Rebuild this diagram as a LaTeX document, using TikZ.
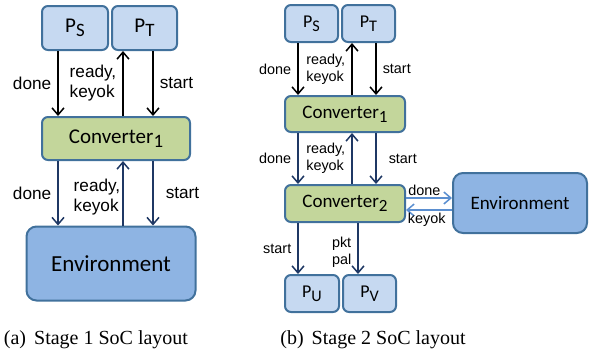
\documentclass[tikz,border=0pt]{standalone}
\usepackage{fontspec}
\setmainfont{Liberation Serif}
\setsansfont{Liberation Sans}
\newfontfamily\calibri{Carlito}
\usepackage{graphicx}
\usetikzlibrary{arrows.meta,positioning}
\definecolor{boxblue}{HTML}{C6D9F1}
\definecolor{edgeblue}{HTML}{41719C}
\definecolor{convgreen}{HTML}{C3D69B}
\definecolor{envblue}{HTML}{8EB4E3}
\definecolor{navy}{HTML}{1F3864}
\definecolor{linkblue}{HTML}{5B8FD0}
\newcommand{\lowsub}[1]{\raisebox{-0.45ex}{\scalebox{0.9}{#1}}}

\begin{document}
\begin{tikzpicture}[x=0.5pt, y=-0.5pt,
  proc/.style={draw=edgeblue, fill=boxblue, line width=1pt, rounded corners=3pt, inner sep=0pt},
  conv/.style={proc, fill=convgreen},
  envbox/.style={proc, fill=envblue, rounded corners=5pt},
  sig/.style={-{Straight Barb[length=3.5pt,width=6pt]}, line width=0.75pt},
  lab/.style={font=\sffamily\fontsize{8.6}{10}\selectfont, align=left, inner sep=3pt},
  labs/.style={font=\sffamily\fontsize{7.2}{8.4}\selectfont, align=left, inner sep=3pt}]
\useasboundingbox (0,0) rectangle (589,354);
% stage 1
\node[proc, minimum width=33pt, minimum height=22pt, font=\calibri\fontsize{10.5}{12}\selectfont] (ps) at (75,28) {P\lowsub{S}};
\node[proc, minimum width=32.5pt, minimum height=22pt, font=\calibri\fontsize{10.5}{12}\selectfont, right=1pt of ps] (pt) {P\lowsub{T}};
\node[conv, minimum width=74pt, minimum height=21.5pt, font=\calibri\fontsize{10.5}{12}\selectfont] (conv) at (116,138.5) {Converter\lowsub{1}};
\node[envbox, minimum width=84.5pt, minimum height=37pt, font=\calibri\fontsize{11.5}{13}\selectfont] (env) at (111,263.5) {Environment};
\coordinate (ca) at (58,0);
\coordinate (cb) at (123,0);
\coordinate (cc) at (153,0);
\draw[sig] (ps.south -| ca) -- node[lab, left] {done} (conv.north -| ca);
\draw[sig] (conv.north -| cb) -- node[lab, left] {ready,\\keyok} (pt.south -| cb);
\draw[sig] (pt.south -| cc) -- node[lab, right] {start} (conv.north -| cc);
\draw[sig, navy] (conv.south -| ca) -- node[lab, left, black] {done} (env.north -| ca);
\draw[sig, navy] (env.north -| cb) -- node[lab, left, black, inner sep=1pt, yshift=-2pt] {ready,\\keyok} (conv.south -| cb);
\draw[sig, navy] (conv.south -| cc) -- node[lab, right, black, xshift=3pt] {start} (env.north -| cc);
\node (capa) at (96,340) {(a)\hspace{0.4em}Stage 1 SoC layout};
% stage 2
\node[proc, minimum width=26.5pt, minimum height=18.5pt, font=\calibri\fontsize{9}{11}\selectfont] (ps2) at (311.5,23.5) {P\lowsub{S}};
\node[proc, minimum width=26.5pt, minimum height=18.5pt, font=\calibri\fontsize{9}{11}\selectfont, right=1pt of ps2] (pt2) {P\lowsub{T}};
\node[conv, minimum width=60pt, minimum height=18pt, font=\calibri\fontsize{9.5}{11}\selectfont] (cv1) at (345,114) {Converter\lowsub{1}};
\node[conv, minimum width=60pt, minimum height=18.5pt, font=\calibri\fontsize{9.5}{11}\selectfont] (cv2) at (345,203.5) {Converter\lowsub{2}};
\node[proc, minimum width=27pt, minimum height=18.5pt, font=\calibri\fontsize{9}{11}\selectfont] (pu) at (312,293.5) {P\lowsub{U}};
\node[proc, minimum width=26.5pt, minimum height=18.5pt, font=\calibri\fontsize{9}{11}\selectfont, right=1pt of pu] (pv) {P\lowsub{V}};
\node[envbox, minimum width=67pt, minimum height=30pt, font=\calibri\fontsize{9.5}{11}\selectfont] (env2) at (520,203) {Environment};
\coordinate (cd) at (298,0);
\coordinate (ce) at (352,0);
\coordinate (cf) at (376,0);
\coordinate (cg) at (358,0);
\coordinate (rh) at (0,198);
\coordinate (ri) at (0,210);
\draw[sig] (ps2.south -| cd) -- node[labs, left] {done} (cv1.north -| cd);
\draw[sig] (cv1.north -| ce) -- node[labs, left] {ready,\\keyok} (pt2.south -| ce);
\draw[sig] (pt2.south -| cf) -- node[labs, right] {start} (cv1.north -| cf);
\draw[sig, navy] (cv1.south -| cd) -- node[labs, left, black] {done} (cv2.north -| cd);
\draw[sig, navy] (cv2.north -| ce) -- node[labs, left, black] {ready,\\keyok} (cv1.south -| ce);
\draw[sig, navy] (cv1.south -| cf) -- node[labs, right, black, xshift=3pt] {start} (cv2.north -| cf);
\draw[sig, navy] (cv2.south -| cd) -- node[labs, left, black] {start} (pu.north -| cd);
\draw[sig, navy] (cv2.south -| cg) -- node[labs, left, black, yshift=-2pt] {pkt\\pal} (pv.north -| cg);
\draw[sig, linkblue] (cv2.east |- rh) -- node[labs, above, black, pos=0.4, inner sep=1pt] {done} (env2.west |- rh);
\draw[sig, linkblue] (env2.west |- ri) -- node[labs, below, black, pos=0.55, inner sep=1pt] {keyok} (cv2.east |- ri);
\node (capb) at (373,340) {(b)\hspace{0.4em}Stage 2 SoC layout};
\end{tikzpicture}
\end{document}
